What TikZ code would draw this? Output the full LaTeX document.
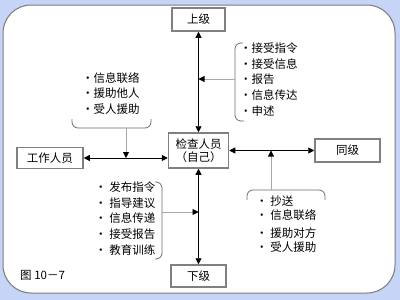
\documentclass[tikz,border=0pt]{standalone}
\usepackage{fontspec}
\setmainfont{Noto Sans CJK SC}
\usetikzlibrary{arrows.meta}
\definecolor{pagebg}{HTML}{C6D4F7}
\definecolor{frameline}{HTML}{7A7A7A}
\definecolor{boxline}{HTML}{808080}
\definecolor{noteline}{HTML}{A8A8A8}
\definecolor{bracketgray}{HTML}{6E6E6E}
\tikzset{
  rolebox/.style={
    draw=boxline,
    line width=1.5pt,
    fill=white,
    align=center,
    inner sep=0pt,
    font=\fontsize{11.5}{13}\selectfont
  },
  notelist/.style={
    align=left,
    inner sep=0pt,
    anchor=west,
    font=\fontsize{11.5}{15.7}\selectfont
  },
  linkarrow/.style={{Triangle[length=6pt,width=6pt]}-{Triangle[length=6pt,width=6pt]}, line width=0.8pt, draw=black},
  notearrow/.style={-{Triangle[length=6pt,width=6pt,color=black]}, line width=0.8pt, draw=noteline},
  bracket/.style={draw=bracketgray, line width=0.8pt, rounded corners=6pt}
}

\begin{document}
\begin{tikzpicture}[x=1pt,y=-1pt]
\fill[pagebg] (0,0) rectangle (400,300);
\draw[draw=frameline, line width=1pt, fill=white, rounded corners=28pt] (3,5) rectangle (395,293);

\node[rolebox, minimum width=53pt, minimum height=23pt] (boss) at (198.5,19.5) {上级};
\node[rolebox, minimum width=60pt, minimum height=35pt] (self) at (198.5,150.5) {检查人员\\（自己）};
\node[rolebox, minimum width=65pt, minimum height=23pt] (peer) at (347.5,150.5) {同级};
\node[rolebox, minimum width=66pt, minimum height=21pt] (staff) at (50,158) {工作人员};
\node[rolebox, minimum width=55pt, minimum height=22pt] (subord) at (198.5,276) {下级};

\draw[linkarrow] (boss) -- (self);
\draw[linkarrow] (self) -- (subord);
\draw[linkarrow] (self) -- (peer);
\draw[linkarrow] (staff.east) -- (staff.east -| self.west);

% notes to the boss
\node[notelist] (upnotes) at (240,79.5) {·接受指令\\·接受信息\\·报告\\·信息传达\\·申述};
\draw[bracket] (243,43) -| (235,121) -- (244,121);
\coordinate (upjoin) at (235,79);
\draw[notearrow] (upjoin) -- (upjoin -| self.north);

% notes to the staff
\node[notelist, font=\fontsize{11.5}{15.5}\selectfont] (sidenotes) at (82,93.5) {·信息联络\\·援助他人\\·受人援助};
\draw[bracket] (72,119) |- (151,128) -- (151,119);
\coordinate (sidejoin) at (126,128);
\draw[notearrow] (sidejoin) -- (sidejoin |- staff.east);

% notes to the subordinates
\node[notelist] (downnotes) at (95,218.5) {· 发布指令\\· 指导建议\\· 信息传递\\· 接受报告\\· 教育训练};
\draw[bracket] (155,182) -| (162,259) -- (155,259);
\coordinate (downjoin) at (162,212);
\draw[notearrow] (downjoin) -- (downjoin -| self.south);

% notes to the peers
\node[notelist, font=\fontsize{11.5}{14}\selectfont] (peernotes) at (256,224) {· 抄送\\· 信息联络\\[4pt]· 援助对方\\· 受人援助};
\draw[bracket] (247,200) |- (325,190) -- (325,200);
\coordinate (peerjoin) at (271,190);
\draw[notearrow] (peerjoin) -- (peerjoin |- self.east);

\node[anchor=west, inner sep=0pt, font=\fontsize{11.5}{13}\selectfont] (figlabel) at (20,275) {图 10－7};
\end{tikzpicture}
\end{document}
